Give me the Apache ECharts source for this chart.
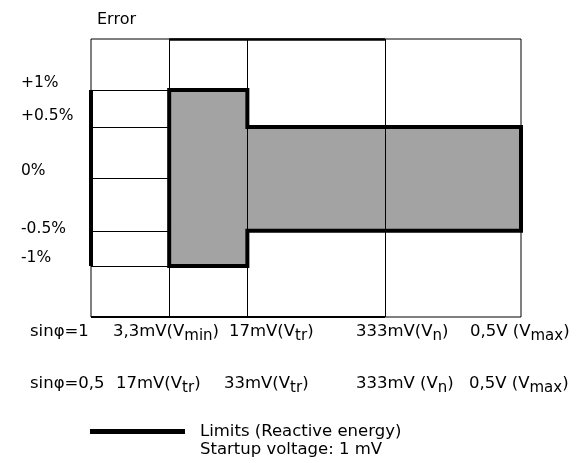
<!DOCTYPE html>
<html>
<head>
<meta charset="utf-8">
<script src="https://cdn.jsdelivr.net/npm/echarts@6/dist/echarts.min.js"></script>
<style>
  html, body { margin: 0; padding: 0; background: #fff; }
  #chart { width: 582px; height: 463px; }
</style>
</head>
<body>
<div id="chart"></div>
<script>
// schematic x positions of the voltage boundaries (frame left .. frame right)
const xBounds = [0, 1, 2, 3.76, 5.5];
// schematic y positions of the error levels, and their labels
const levelPos = [0.95, 0.55, 0, -0.57, -0.95];
const levelLabels = ["+1%", "+0.5%", "0%", "-0.5%", "-1%"];
// limit outline for reactive energy (grey area)
const limitX = [1, 2, 2, 5.5, 5.5, 2, 2, 1];
const limitY = [0.95, 0.95, 0.55, 0.55, -0.57, -0.57, -0.95, -0.95];
// thick limit on the left edge
const edgeX = [0, 0];
const edgeY = [0.95, -0.95];
// voltage labels under the chart
const row1Labels = ["sinφ=1", "3,3mV(V{s|min})", "17mV(V{s|tr})", "333mV(V{s|n})", "0,5V (V{s|max})"];
const row2Labels = ["sinφ=0,5", "17mV(V{s|tr})", "33mV(V{s|tr})", "333mV (V{s|n})", "0,5V (V{s|max})"];
const legendName = "Limits (Reactive energy)";
const startupNote = "Startup voltage: 1 mV";

// layout only
const FONT = "DejaVu Sans";
const row1X = [30, 113, 229, 356, 470];
const row2X = [30, 116, 224, 356, 469];
const labelLift = [7, 11, 7, 2, 8];

const chart = echarts.init(document.getElementById("chart"));

const thin = { color: "#000", width: 1, type: "solid" };
const gridLines = [];
xBounds.slice(1, 4).forEach((x) => gridLines.push({ xAxis: x, lineStyle: thin }));
levelPos.forEach((y) =>
  gridLines.push([{ coord: [xBounds[0], y], lineStyle: thin }, { coord: [xBounds[1], y] }])
);
// heavier frame parts
gridLines.push([{ coord: [xBounds[1], 1.5], lineStyle: { color: "#000", width: 2.5, type: "solid" } }, { coord: [xBounds[3], 1.5] }]);
gridLines.push([{ coord: [xBounds[0], -1.5], lineStyle: { color: "#000", width: 2, type: "solid" } }, { coord: [xBounds[3], -1.5] }]);

const subStyle = { s: { fontSize: 15, fontFamily: FONT, lineHeight: 14, verticalAlign: "bottom" } };

function rowText(labels, xs, y) {
  return labels.map((t, i) => ({
    type: "text",
    x: xs[i],
    y: y,
    style: {
      text: t,
      fontSize: 16.5,
      fontFamily: FONT,
      lineHeight: 24,
      fill: "#000",
      align: "left",
      verticalAlign: "middle",
      rich: subStyle,
    },
  }));
}

const yRich = {};
labelLift.forEach((l, i) => {
  yRich["l" + i] = { fontSize: 15.5, fontFamily: FONT, color: "#000", padding: [0, 0, l * 2, 0] };
});

chart.setOption({
  animation: false,
  grid: {
    left: 91, top: 39, width: 430, height: 278,
    show: true, borderColor: "#000", borderWidth: 1,
  },
  xAxis: {
    type: "value", min: 0, max: 5.5,
    axisLine: { show: false }, axisTick: { show: false },
    axisLabel: { show: false }, splitLine: { show: false },
  },
  yAxis: {
    type: "value", min: -1.5, max: 1.5,
    name: "Error",
    nameLocation: "end",
    nameGap: 19,
    nameTextStyle: {
      fontSize: 16, fontFamily: FONT, color: "#000",
      align: "left", verticalAlign: "middle", padding: [0, 0, 0, 6],
    },
    axisLine: { show: false }, axisTick: { show: false }, splitLine: { show: false },
    axisLabel: {
      customValues: levelPos,
      align: "left",
      margin: 70,
      formatter: (v) => {
        let i = 0;
        levelPos.forEach((p, k) => { if (Math.abs(p - v) < Math.abs(levelPos[i] - v)) i = k; });
        return "{l" + i + "|" + levelLabels[i] + "}";
      },
      rich: yRich,
    },
  },
  legend: {
    data: [legendName],
    left: 90, top: 423, padding: 0,
    icon: "rect", itemWidth: 95, itemHeight: 5,
    selectedMode: false,
    textStyle: { fontSize: 16.5, fontFamily: FONT, color: "#000", padding: [0, 0, 0, 10] },
  },
  series: [
    {
      type: "line",
      data: [],
      silent: true,
      markLine: { silent: true, symbol: ["none", "none"], label: { show: false }, data: gridLines },
      z: 1,
    },
    {
      type: "custom",
      silent: true,
      data: limitX.map((x, i) => [x, limitY[i]]),
      encode: { x: 0, y: 1 },
      renderItem: (params, api) => {
        if (params.dataIndex !== 0) return null;
        const pts = limitX.map((x, i) => api.coord([x, limitY[i]]));
        return {
          type: "polygon",
          shape: { points: pts },
          style: { fill: "#a3a3a3", stroke: "#000", lineWidth: 4 },
        };
      },
      z: 3,
    },
    {
      name: legendName,
      type: "line",
      data: edgeX.map((x, i) => [x, edgeY[i]]),
      showSymbol: false,
      color: "#000",
      lineStyle: { color: "#000", width: 4 },
      z: 4,
    },
  ],
  graphic: [
    ...rowText(row1Labels, row1X, 332),
    ...rowText(row2Labels, row2X, 384),
    {
      type: "text", x: 200, y: 450,
      style: { text: startupNote, fontSize: 16.5, fontFamily: FONT, fill: "#000", align: "left", verticalAlign: "middle" },
    },
  ],
});
</script>
</body>
</html>
